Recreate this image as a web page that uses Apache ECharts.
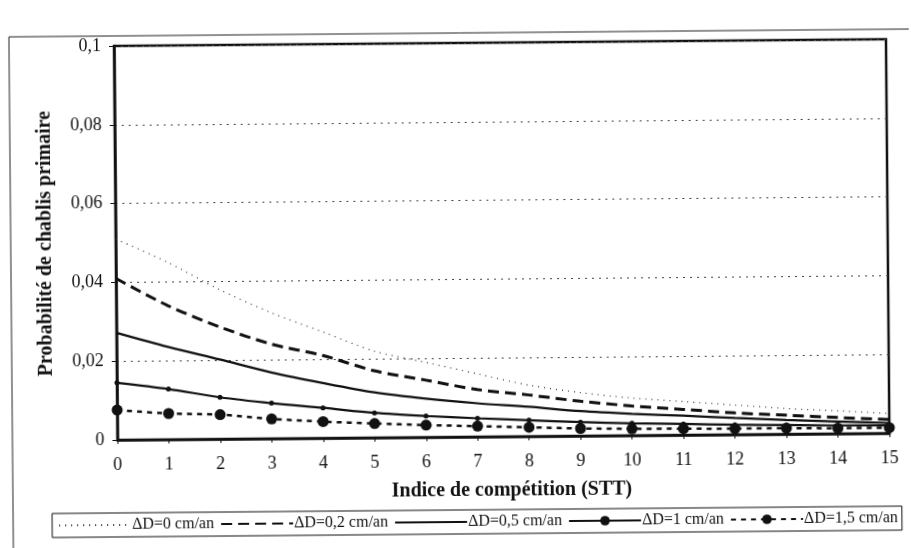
<!DOCTYPE html>
<html>
<head>
<meta charset="utf-8">
<title>Probabilité de chablis primaire</title>
<script src="https://cdn.jsdelivr.net/npm/echarts@6/dist/echarts.min.js"></script>
<style>
  html, body { margin: 0; padding: 0; background: #fff; overflow: hidden; }
  #chart { width: 911px; height: 548px; transform: rotate(-0.5deg); transform-origin: 50% 50%; }
</style>
</head>
<body>
<div id="chart"></div>
<script>
// Indice de compétition (STT)
const stt = [0, 1, 2, 3, 4, 5, 6, 7, 8, 9, 10, 11, 12, 13, 14, 15];

// Probabilité de chablis primaire, one array per diameter increment
const dD0  = [0.051, 0.045, 0.038, 0.032, 0.027, 0.022, 0.019, 0.016, 0.013, 0.011, 0.0095, 0.0085, 0.0075, 0.0065, 0.0058, 0.005];
const dD02 = [0.041, 0.034, 0.0285, 0.024, 0.021, 0.017, 0.0145, 0.012, 0.0105, 0.0088, 0.0075, 0.0065, 0.0055, 0.0048, 0.0041, 0.0035];
const dD05 = [0.0272, 0.0235, 0.0202, 0.0168, 0.014, 0.0115, 0.0098, 0.0085, 0.0075, 0.0063, 0.0055, 0.0049, 0.0042, 0.0036, 0.0031, 0.0026];
const dD1  = [0.0145, 0.0128, 0.0106, 0.009, 0.0077, 0.0063, 0.0054, 0.0047, 0.0041, 0.0035, 0.0031, 0.0028, 0.0025, 0.0023, 0.0021, 0.002];
const dD15 = [0.0076, 0.0066, 0.0062, 0.005, 0.0042, 0.0036, 0.0031, 0.0027, 0.0023, 0.0019, 0.0017, 0.0016, 0.0015, 0.0015, 0.0014, 0.0014];

const seriesNames = ['ΔD=0 cm/an', 'ΔD=0,2 cm/an', 'ΔD=0,5 cm/an', 'ΔD=1 cm/an', 'ΔD=1,5 cm/an'];
const yTickLabels = ['0', '0,02', '0,04', '0,06', '0,08', '0,1'];
const xTickLabels = stt.map(String);

const FONT = '"Liberation Serif", "DejaVu Serif", serif';
const INK = '#111';

const pairs = ys => stt.map((x, i) => [x, ys[i]]);

// curves drawn without point markers also show no marker in the legend
const legendItems = seriesNames.map((name, i) =>
  i < 3 ? { name, itemStyle: { opacity: 0 } } : { name });

const chart = echarts.init(document.getElementById('chart'), null, { renderer: 'canvas' });

chart.setOption({
  backgroundColor: '#fff',
  animation: false,
  graphic: [
    // outer chart frame
    { type: 'rect', silent: true, shape: { x: 11, y: 33, width: 960, height: 600 },
      style: { fill: 'none', stroke: '#222', lineWidth: 1 }, z: -1 }
  ],
  grid: {
    left: 116, right: 23, top: 43, bottom: 111,
    show: true, borderColor: INK, borderWidth: 2.5, backgroundColor: 'transparent'
  },
  legend: {
    left: 50, top: 510,
    padding: [4, 4, 4, 6],
    borderColor: INK, borderWidth: 1, borderRadius: 0,
    itemWidth: 72, itemHeight: 12, itemGap: 6,
    textStyle: { fontFamily: FONT, fontSize: 16, color: INK, padding: [0, 0, 0, -4] },
    data: legendItems
  },
  xAxis: {
    type: 'value', min: 0, max: 15, interval: 1,
    name: 'Indice de compétition (STT)', nameLocation: 'middle', nameGap: 44,
    nameTextStyle: { fontFamily: FONT, fontSize: 20, fontWeight: 'bold', color: INK, padding: [0, 0, 0, 16] },
    axisLine: { show: true, onZero: false, lineStyle: { color: INK, width: 2.5 } },
    axisTick: { show: true, length: 4, lineStyle: { color: INK, width: 1 } },
    axisLabel: { margin: 16, fontFamily: FONT, fontSize: 18, color: INK,
      formatter: (v) => xTickLabels[stt.indexOf(v)] },
    splitLine: { show: false }
  },
  yAxis: {
    type: 'value', min: 0, max: 0.1, interval: 0.02,
    name: 'Probabilité de chablis primaire', nameLocation: 'middle', nameGap: 60,
    nameTextStyle: { fontFamily: FONT, fontSize: 20, fontWeight: 'bold', color: INK },
    axisLine: { show: true, lineStyle: { color: INK, width: 2.5 } },
    axisTick: { show: true, length: 5, lineStyle: { color: INK, width: 1 } },
    axisLabel: { margin: 13, fontFamily: FONT, fontSize: 18, color: INK,
      formatter: (v, i) => yTickLabels[i] },
    splitLine: { show: true, lineStyle: { color: '#444', width: 1, type: [2, 5] } }
  },
  series: [
    { name: seriesNames[0], type: 'line', data: pairs(dD0), smooth: 0.3, showSymbol: false, symbol: 'none',
      lineStyle: { color: '#333', width: 1.2, type: [1, 5] }, itemStyle: { color: '#333' } },
    { name: seriesNames[1], type: 'line', data: pairs(dD02), smooth: 0.3, showSymbol: false, symbol: 'none',
      lineStyle: { color: INK, width: 3, type: [11, 6] }, itemStyle: { color: INK } },
    { name: seriesNames[2], type: 'line', data: pairs(dD05), smooth: 0.3, showSymbol: false, symbol: 'none',
      lineStyle: { color: INK, width: 2.2, type: 'solid' }, itemStyle: { color: INK } },
    { name: seriesNames[3], type: 'line', data: pairs(dD1), smooth: 0.3, symbol: 'circle', symbolSize: 5,
      lineStyle: { color: INK, width: 2.2, type: 'solid' }, itemStyle: { color: INK } },
    { name: seriesNames[4], type: 'line', data: pairs(dD15), smooth: 0.3, symbol: 'circle', symbolSize: 11,
      lineStyle: { color: INK, width: 2.5, type: [5, 5] }, itemStyle: { color: INK } }
  ]
});
</script>
</body>
</html>
